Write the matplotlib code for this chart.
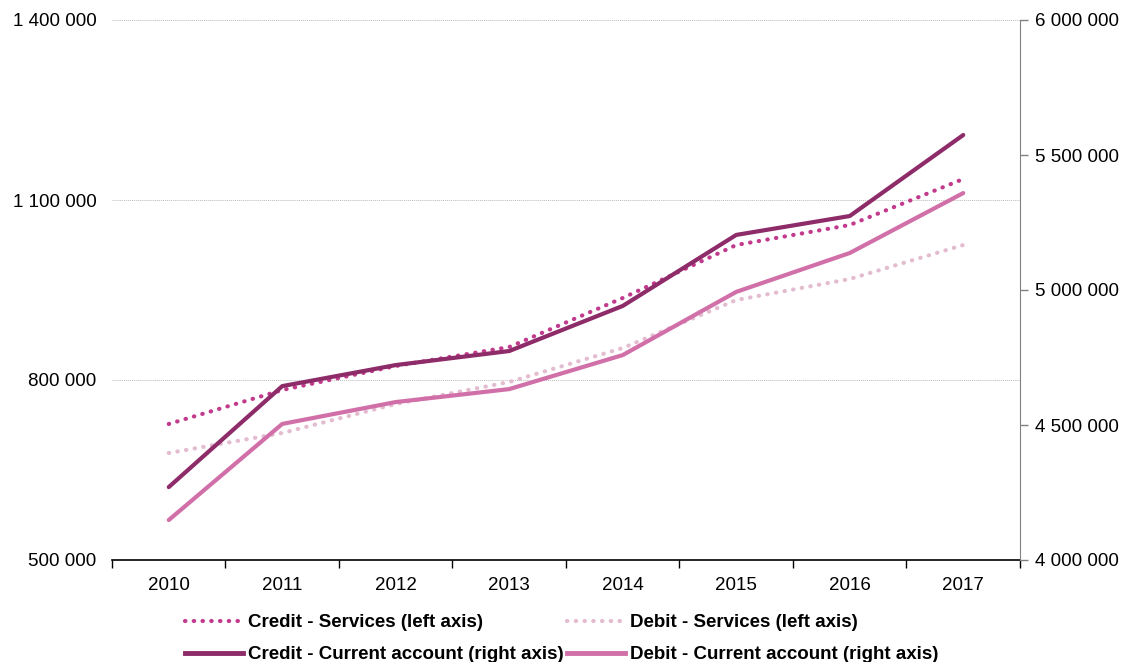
import matplotlib
matplotlib.use("Agg")
import matplotlib.pyplot as plt
from matplotlib.ticker import FuncFormatter, FixedLocator
from matplotlib.lines import Line2D

years = ["2010", "2011", "2012", "2013", "2014", "2015", "2016", "2017"]
credit_services = [726700, 783300, 823300, 855000, 936700, 1025000, 1058300, 1135000]
debit_services = [678300, 711700, 760000, 796700, 853300, 933300, 968300, 1025000]
credit_current = [4270000, 4644000, 4722000, 4774000, 4941000, 5204000, 5274000, 5574000]
debit_current = [4148000, 4504000, 4585000, 4633000, 4759000, 4993000, 5137000, 5359000]

left_ticks = [500000, 800000, 1100000, 1400000]
right_ticks = [4000000, 4500000, 5000000, 5500000, 6000000]

c_cs = "#C23A8C"
c_ds = "#E3BCD0"
c_cca = "#8E2B69"
c_dca = "#D170A8"

plt.rcParams['font.family'] = ['Liberation Sans', 'DejaVu Sans']

fig = plt.figure(figsize=(11.27, 6.62), dpi=100)
ax = fig.add_axes([112/1127, (662-560)/662, (1020-112)/1127, 540/662])
ax2 = ax.twinx()

x = list(range(len(years)))
dot = (0, (0.1, 2.0))
ax.plot(x, credit_services, color=c_cs, lw=3, linestyle=dot, dash_capstyle='round', zorder=3)
ax.plot(x, debit_services, color=c_ds, lw=3, linestyle=dot, dash_capstyle='round', zorder=3)
ax2.plot(x, credit_current, color=c_cca, lw=3, solid_capstyle='round', zorder=4)
ax2.plot(x, debit_current, color=c_dca, lw=3, solid_capstyle='round', zorder=4)

fmt = FuncFormatter(lambda v, p: f"{int(v):,}".replace(",", " "))
ax.set_ylim(500000, 1400000)
ax.yaxis.set_major_locator(FixedLocator(left_ticks))
ax.yaxis.set_major_formatter(fmt)
ax2.set_ylim(4000000, 6000000)
ax2.yaxis.set_major_locator(FixedLocator(right_ticks))
ax2.yaxis.set_major_formatter(fmt)

fs = 13.5
ax.set_xlim(-0.5, len(years) - 0.5)
ax.set_xticks(x)
ax.set_xticklabels(years)
ax.set_xticks([i - 0.5 for i in range(len(years) + 1)], minor=True)
ax.tick_params(axis='x', which='major', length=0, pad=12, labelsize=fs)
ax.tick_params(axis='x', which='minor', length=6, width=1, color='black', direction='out')
ax.tick_params(axis='y', length=0, pad=11, labelsize=fs)
ax2.tick_params(axis='y', length=6, width=1, color='#808080', direction='out', pad=5, labelsize=fs)

ax.grid(axis='y', color='#BBBBBB', lw=0.7, linestyle=(0, (1, 1)))
ax.set_axisbelow(True)

for s in ['top', 'left', 'right']:
    ax.spines[s].set_visible(False)
for s in ['top', 'left', 'bottom']:
    ax2.spines[s].set_visible(False)
ax2.spines['right'].set_color('#808080')
ax.spines['bottom'].set_color('black')
ax.spines['bottom'].set_linewidth(1.2)

handles = [
    Line2D([], [], color=c_cs, lw=3, linestyle=dot, dash_capstyle='round'),
    Line2D([], [], color=c_cca, lw=3.5),
    Line2D([], [], color=c_ds, lw=3, linestyle=dot, dash_capstyle='round'),
    Line2D([], [], color=c_dca, lw=3.5),
]
labels = ["Credit - Services (left axis)", "Credit - Current account (right axis)",
          "Debit - Services (left axis)", "Debit - Current account (right axis)"]
fig.legend(handles, labels, ncol=2, loc='upper left', bbox_to_anchor=(185/1127, 1 - 614/662),
           frameon=False, handlelength=3.1, handletextpad=0.27, columnspacing=0.15,
           labelspacing=0.8, borderaxespad=0, borderpad=0,
           prop={'weight': 'bold', 'size': fs})

fig.savefig("out.png", dpi=100)
